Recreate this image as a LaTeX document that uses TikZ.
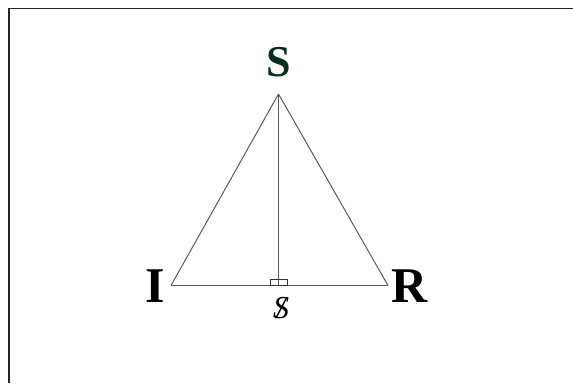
\documentclass[tikz,border=0pt]{standalone}
\usepackage{fontspec}
\setmainfont{Liberation Serif}
\usepackage{tikz}

\definecolor{apexgreen}{RGB}{8,45,25}
\definecolor{edgegray}{RGB}{90,90,90}

\begin{document}
\begin{tikzpicture} [x=1pt,y=-1pt, every node/.style={inner sep=0pt}]
    \useasboundingbox (0,0) rectangle (573,383);

    % frame (top and left only)
    \coordinate (f1) at (9,383);
    \coordinate (f2) at (9,8.5);
    \coordinate (f3) at (573,8.5);
    \draw[line width=1.5pt, black!85] (f1) -- (f2) -- (f3);

    % triangle corners
    \coordinate (s) at (278.5, 94);
    \coordinate (i) at (171, 285.5);
    \coordinate (r) at (388, 285.5);
    \coordinate (h) at (278.5, 285.5);

    % labels
    \node[text=apexgreen, font=\fontsize{44}{44}\selectfont\bfseries] (ls) at (279, 62) {S};
    \node[font=\fontsize{50}{50}\selectfont\bfseries] (li) at (155, 286) {I};
    \node[font=\fontsize{50}{50}\selectfont\bfseries] (lr) at (410, 286) {R};
    \node[font=\fontsize{32}{32}\selectfont\itshape] (lh) at (281, 308)
        {\ooalign{S\cr\hidewidth/\hidewidth\cr}};

    % draw triangle
    \draw[edgegray, line width=1pt] (i) -- (r);
    \draw[edgegray, line width=1pt] (r) -- (s);
    \draw[edgegray, line width=1pt] (s) -- (i);

    % altitude and right angle mark
    \draw[edgegray, line width=1pt] (s) -- (h);
    \draw[black!80, line width=0.8pt] (270,285.5) rectangle (287,279);

\end{tikzpicture}
\end{document}
